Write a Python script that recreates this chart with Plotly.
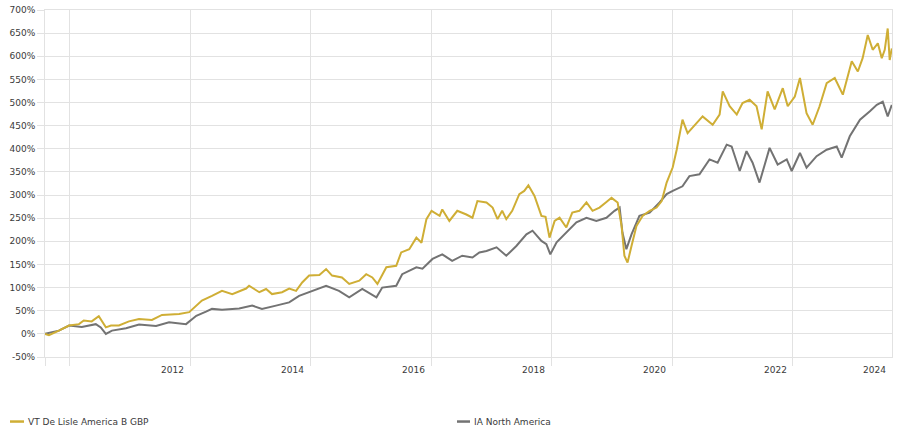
import plotly.graph_objects as go

# ---------------- data ----------------
fund_name = "VT De Lisle America B GBP"
sector_name = "IA North America"

fund_dates = [
    "2010-08-06", "2010-08-30", "2010-10-29", "2010-12-30", "2011-02-28", "2011-03-29",
    "2011-05-16", "2011-06-28", "2011-08-10", "2011-09-10", "2011-10-28", "2011-12-28",
    "2012-02-27", "2012-05-15", "2012-07-15", "2012-10-27", "2012-12-27", "2013-03-14",
    "2013-05-14", "2013-07-14", "2013-09-14", "2013-12-07", "2013-12-25", "2014-02-25",
    "2014-04-07", "2014-05-13", "2014-07-13", "2014-08-25", "2014-10-06", "2014-11-12",
    "2014-12-24", "2015-02-24", "2015-04-06", "2015-05-12", "2015-07-11", "2015-08-24",
    "2015-10-24", "2015-12-05", "2016-01-11", "2016-02-11", "2016-04-05", "2016-06-04",
    "2016-07-04", "2016-08-22", "2016-10-04", "2016-11-04", "2016-12-04", "2017-01-04",
    "2017-02-22", "2017-03-10", "2017-04-22", "2017-06-09", "2017-08-03", "2017-09-09",
    "2017-10-09", "2017-12-03", "2018-01-09", "2018-02-08", "2018-03-08", "2018-04-02",
    "2018-05-08", "2018-06-20", "2018-07-20", "2018-08-14", "2018-09-20", "2018-11-01",
    "2018-11-26", "2018-12-20", "2019-01-20", "2019-02-19", "2019-04-01", "2019-05-07",
    "2019-06-19", "2019-08-01", "2019-09-07", "2019-10-19", "2019-11-30", "2019-12-31",
    "2020-02-06", "2020-03-01", "2020-03-18", "2020-04-06", "2020-04-30", "2020-05-30",
    "2020-07-06", "2020-08-18", "2020-09-29", "2020-10-30", "2020-11-29", "2021-01-05",
    "2021-01-29", "2021-03-05", "2021-04-05", "2021-05-29", "2021-07-05", "2021-09-04",
    "2021-10-16", "2021-11-04", "2021-12-16", "2022-01-28", "2022-03-04", "2022-04-16",
    "2022-05-28", "2022-06-28", "2022-08-03", "2022-09-15", "2022-11-03", "2022-12-03",
    "2023-01-15", "2023-02-15", "2023-03-27", "2023-05-03", "2023-06-14", "2023-07-27",
    "2023-09-14", "2023-11-02", "2023-12-26", "2024-02-01", "2024-03-01", "2024-04-01",
    "2024-05-01", "2024-06-01", "2024-06-25", "2024-07-13", "2024-07-31", "2024-08-12",
    "2024-08-25",
]
fund_values = [
    0, -3, 7, 18, 21, 29,
    27, 38, 14, 18, 18, 27,
    32, 30, 41, 43, 47, 72,
    82, 93, 86, 98, 104, 90,
    97, 86, 90, 98, 93, 111,
    126, 127, 140, 126, 122, 108,
    115, 129, 122, 108, 144, 147,
    176, 183, 208, 197, 248, 266,
    255, 269, 244, 266, 258, 251,
    287, 284, 273, 248, 266, 248,
    266, 302, 309, 321, 298, 255,
    253, 208, 244, 251, 230, 262,
    266, 284, 266, 273, 285, 294,
    284, 233, 169, 154, 190, 233,
    255, 266, 273, 287, 327, 360,
    398, 463, 434, 456, 470, 452,
    474, 524, 492, 474, 499, 506,
    492, 442, 524, 485, 531, 492,
    513, 553, 477, 452, 492, 542,
    553, 517, 589, 567, 596, 646,
    614, 628, 596, 614, 660, 592,
    617,
]

sector_dates = [
    "2010-08-06", "2010-10-29", "2010-12-30", "2011-03-17", "2011-06-10", "2011-07-10",
    "2011-08-10", "2011-09-16", "2011-12-10", "2012-02-27", "2012-06-09", "2012-08-27",
    "2012-12-08", "2013-02-08", "2013-04-08", "2013-05-14", "2013-07-14", "2013-10-26",
    "2014-01-13", "2014-03-13", "2014-06-06", "2014-08-25", "2014-10-24", "2014-12-24",
    "2015-04-06", "2015-06-23", "2015-08-24", "2015-11-11", "2016-02-05", "2016-03-11",
    "2016-06-04", "2016-07-10", "2016-10-04", "2016-11-10", "2017-01-10", "2017-03-10",
    "2017-05-09", "2017-07-09", "2017-09-09", "2017-10-21", "2017-12-03", "2018-02-02",
    "2018-04-02", "2018-06-02", "2018-08-02", "2018-09-08", "2018-11-01", "2018-12-01",
    "2018-12-25", "2019-02-01", "2019-04-01", "2019-06-01", "2019-08-01", "2019-09-30",
    "2019-11-30", "2020-01-18", "2020-02-18", "2020-03-06", "2020-03-30", "2020-04-30",
    "2020-06-17", "2020-08-18", "2020-10-17", "2020-11-29", "2021-01-05", "2021-03-05",
    "2021-04-16", "2021-06-16", "2021-08-16", "2021-10-04", "2021-11-28", "2021-12-28",
    "2022-02-15", "2022-03-28", "2022-05-04", "2022-06-15", "2022-08-15", "2022-10-03",
    "2022-11-27", "2022-12-27", "2023-02-15", "2023-03-27", "2023-05-27", "2023-07-27",
    "2023-09-26", "2023-10-26", "2023-12-14", "2024-02-14", "2024-04-14", "2024-05-26",
    "2024-07-01", "2024-07-31", "2024-08-25",
]
sector_values = [
    0, 7, 18, 15, 21, 14,
    0, 7, 12, 20, 17, 25,
    21, 39, 48, 54, 52, 55,
    61, 54, 61, 68, 82, 90,
    104, 93, 79, 97, 79, 100,
    104, 129, 144, 141, 162, 172,
    158, 169, 165, 176, 179, 187,
    169, 190, 215, 223, 201, 194,
    172, 198, 219, 241, 251, 244,
    251, 266, 273, 219, 183, 215,
    255, 262, 284, 302, 309, 319,
    341, 345, 377, 370, 409, 405,
    352, 395, 370, 327, 402, 366,
    377, 352, 391, 359, 384, 398,
    405, 381, 427, 463, 481, 495,
    502, 470, 495,
]

y_tick_values = list(range(-50, 701, 50))
y_tick_text = [f"{v}%" for v in y_tick_values]
x_grid_dates = ["2011-01-01", "2013-01-01", "2015-01-01", "2017-01-01",
                "2019-01-01", "2021-01-01", "2023-01-01"]
x_label_text = ["2012", "2014", "2016", "2018", "2020", "2022", "2024"]
x_label_anchor = ["2013-01-01", "2015-01-01", "2017-01-01", "2019-01-01",
                  "2021-01-01", "2023-01-01", "2024-08-26"]
x_start, x_end = "2010-08-06", "2024-08-26"

# ---------------- style ----------------
GOLD = "#CFAE35"
GREY = "#737373"
GRID = "#E2E2E2"
TEXT = "#3A3A3A"
FONT = "DejaVu Sans"

fig = go.Figure()
fig.add_trace(go.Scatter(x=sector_dates, y=sector_values, mode="lines", name=sector_name,
                         line=dict(color=GREY, width=2)))
fig.add_trace(go.Scatter(x=fund_dates, y=fund_values, mode="lines", name=fund_name,
                         line=dict(color=GOLD, width=2)))

annotations = []
for txt, anc in zip(x_label_text, x_label_anchor):
    annotations.append(dict(x=anc, xref="x", y=0, yref="paper", text=txt,
                            showarrow=False, xanchor="right", yanchor="top",
                            xshift=-4, yshift=-6,
                            font=dict(family=FONT, size=9, color=TEXT)))

# manual legend (short line symbols like the reference)
legend_items = [(fund_name, GOLD, -0.0413, -0.0248, -0.0224),
                (sector_name, GREY, 0.4864, 0.5018, 0.5041)]
shapes = []
for name, col, x0, x1, xt in legend_items:
    shapes.append(dict(type="line", xref="paper", yref="paper", x0=x0, x1=x1,
                       y0=-0.186, y1=-0.186, line=dict(color=col, width=2.5)))
    annotations.append(dict(x=xt, xref="paper", y=-0.186, yref="paper", text=name,
                            showarrow=False, xanchor="left", yanchor="middle",
                            font=dict(family=FONT, size=9, color=TEXT)))

fig.update_layout(
    width=898, height=430,
    margin=dict(l=45, r=6, t=10, b=73),
    plot_bgcolor="white", paper_bgcolor="white",
    showlegend=False,
    font=dict(family=FONT, size=9, color=TEXT),
    xaxis=dict(type="date", range=[x_start, x_end],
               tickvals=[x_start] + x_grid_dates, showticklabels=False,
               ticks="outside", ticklen=8, tickcolor=GRID, tickwidth=1,
               showgrid=True, gridcolor=GRID, gridwidth=1,
               showline=True, linecolor=GRID, linewidth=1, mirror=True,
               zeroline=False, fixedrange=True, automargin=False),
    yaxis=dict(range=[-50, 700], tickvals=y_tick_values, ticktext=y_tick_text,
               ticks="outside", ticklen=7, tickcolor=GRID, tickwidth=1,
               showgrid=True, gridcolor=GRID, gridwidth=1,
               showline=True, linecolor=GRID, linewidth=1, mirror=True,
               zeroline=False, fixedrange=True, automargin=False,
               tickfont=dict(family=FONT, size=9, color=TEXT)),
    annotations=annotations,
    shapes=shapes,
)

# remove the browser's default 8px body margin so the figure sits at the page origin
fig.write_html("out.html", config={"displayModeBar": False},
               post_script="document.body.style.margin='0px';")
